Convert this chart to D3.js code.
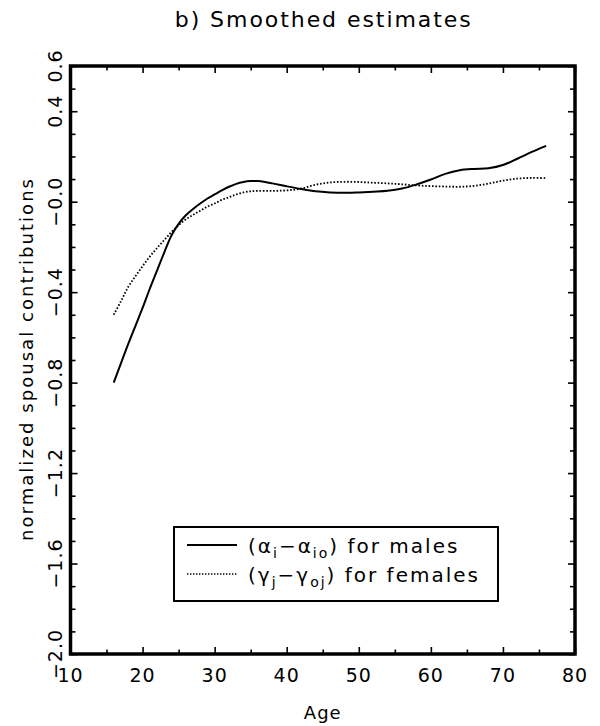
<!DOCTYPE html>
<html>
<head>
<meta charset="utf-8">
<script src="https://cdn.jsdelivr.net/npm/d3@7"></script>
<style>
  html, body { margin: 0; padding: 0; background: #fff; }
  svg text { font-family: "DejaVu Sans", sans-serif; fill: #000; }
</style>
</head>
<body>
<svg id="chart" width="600" height="726"></svg>
<script>
// ---- data ----
const maleAges = [16,17,18,19,20,21,22,23,24,25,26,27,28,29,30,31,32,33,34,35,36,37,38,40,42,44,46,48,50,52,54,56,58,60,62,64,66,68,70,72,74,76];
const maleValues = [-0.80,-0.715,-0.63,-0.55,-0.47,-0.385,-0.305,-0.225,-0.15,-0.098,-0.06,-0.032,-0.008,0.014,0.032,0.05,0.066,0.079,0.087,0.091,0.091,0.087,0.081,0.068,0.056,0.046,0.041,0.039,0.041,0.044,0.048,0.058,0.076,0.098,0.123,0.139,0.145,0.148,0.162,0.19,0.22,0.247];
const femaleAges = [16,17,18,19,20,21,22,23,24,25,26,27,28,29,30,31,32,33,34,35,36,38,40,42,44,46,48,50,52,54,56,58,60,62,64,66,68,70,72,74,76];
const femaleValues = [-0.50,-0.44,-0.377,-0.33,-0.285,-0.243,-0.205,-0.17,-0.135,-0.104,-0.078,-0.058,-0.04,-0.022,-0.008,0.008,0.02,0.032,0.041,0.046,0.048,0.048,0.05,0.058,0.075,0.085,0.088,0.087,0.084,0.081,0.077,0.072,0.069,0.067,0.066,0.07,0.08,0.093,0.102,0.105,0.104];
const xTickValues = [10,20,30,40,50,60,70,80];
const xTickLabels = ["10","20","30","40","50","60","70","80"];
const yTickValues = [-2.0,-1.6,-1.2,-0.8,-0.4,0.0,0.4,0.6];
const yTickLabels = ["\u22122.0","\u22121.6","\u22121.2","\u22120.8","\u22120.4","\u22120.0","0.4","0.6"];
const titleText = "b) Smoothed estimates";
const xTitle = "Age";
const yTitle = "normalized spousal contributions";

// ---- layout ----
const L = 70.5, R = 575, T = 66, B = 654;
const svg = d3.select("#chart");
const x = d3.scaleLinear().domain([10, 80]).range([L, R]);
const y = d3.scaleLinear().domain([-2.0, 0.6]).range([B, T]);

const xMinor = d3.range(15, 80, 10);
const yMinor = d3.range(-19, 6, 1).map(v => v / 10).filter(v => !yTickValues.some(t => Math.abs(t - v) < 1e-9));

function drawAxis(axis, transform) {
  const g = svg.append("g").attr("transform", transform).call(axis);
  g.select(".domain").remove();
  g.selectAll("line").attr("stroke", "#000").attr("stroke-width", 1.6);
  return g;
}
drawAxis(d3.axisBottom(x).tickValues(xTickValues).tickSize(-7).tickFormat(""), `translate(0,${B})`);
drawAxis(d3.axisBottom(x).tickValues(xMinor).tickSize(-4.5).tickFormat(""), `translate(0,${B})`);
drawAxis(d3.axisTop(x).tickValues(xTickValues).tickSize(-7).tickFormat(""), `translate(0,${T})`);
drawAxis(d3.axisTop(x).tickValues(xMinor).tickSize(-4.5).tickFormat(""), `translate(0,${T})`);
drawAxis(d3.axisLeft(y).tickValues(yTickValues).tickSize(-7).tickFormat(""), `translate(${L},0)`);
drawAxis(d3.axisLeft(y).tickValues(yMinor).tickSize(-5).tickFormat(""), `translate(${L},0)`);
drawAxis(d3.axisRight(y).tickValues(yTickValues).tickSize(-7).tickFormat(""), `translate(${R},0)`);
drawAxis(d3.axisRight(y).tickValues(yMinor).tickSize(-5).tickFormat(""), `translate(${R},0)`);

svg.append("rect").attr("x", L).attr("y", T).attr("width", R - L).attr("height", B - T)
  .attr("fill", "none").attr("stroke", "#000").attr("stroke-width", 3.5);

// x tick labels
svg.append("g").selectAll("text").data(xTickValues).join("text")
  .attr("x", d => x(d)).attr("y", 682)
  .attr("text-anchor", "middle").attr("font-size", 19).attr("letter-spacing", 1)
  .text((d, i) => xTickLabels[i]);

// y tick labels (rotated)
svg.append("g").selectAll("text").data(yTickValues).join("text")
  .attr("transform", d => `translate(62,${y(d)}) rotate(-90)`)
  .attr("text-anchor", "middle").attr("font-size", 19).attr("letter-spacing", 1)
  .text((d, i) => yTickLabels[i]);

// titles
svg.append("text").attr("x", (L + R) / 2).attr("y", 27).attr("text-anchor", "middle")
  .attr("font-size", 22).attr("textLength", 296).attr("lengthAdjust", "spacing").text(titleText);
svg.append("text").attr("x", (L + R) / 2).attr("y", 719).attr("text-anchor", "middle")
  .attr("font-size", 18).attr("letter-spacing", 1).text(xTitle);
svg.append("text").attr("transform", `translate(33,${(T + B) / 2}) rotate(-90)`)
  .attr("text-anchor", "middle").attr("font-size", 18)
  .attr("textLength", 362).attr("lengthAdjust", "spacing").text(yTitle);

// curves
const lineGen = d3.line().x(d => x(d[0])).y(d => y(d[1])).curve(d3.curveCatmullRom.alpha(0.5));
const maleData = maleAges.map((a, i) => [a, maleValues[i]]);
const femaleData = femaleAges.map((a, i) => [a, femaleValues[i]]);
svg.append("path").datum(maleData).attr("d", lineGen)
  .attr("fill", "none").attr("stroke", "#000").attr("stroke-width", 2);
svg.append("path").datum(femaleData).attr("d", lineGen)
  .attr("fill", "none").attr("stroke", "#000").attr("stroke-width", 1.8)
  .attr("stroke-dasharray", "1.6,1.8");

// legend
const lg = svg.append("g");
lg.append("rect").attr("x", 174).attr("y", 527).attr("width", 324).attr("height", 74)
  .attr("fill", "#fff").attr("stroke", "#000").attr("stroke-width", 2);
lg.append("line").attr("x1", 187).attr("x2", 237).attr("y1", 545).attr("y2", 545)
  .attr("stroke", "#000").attr("stroke-width", 1.8);
lg.append("line").attr("x1", 187).attr("x2", 237).attr("y1", 574).attr("y2", 574)
  .attr("stroke", "#000").attr("stroke-width", 1.6).attr("stroke-dasharray", "1.4,1.6");

function legendText(yPos, parts) {
  const t = lg.append("text").attr("x", 248).attr("y", yPos).attr("font-size", 20).attr("letter-spacing", 2);
  parts.forEach(p => {
    const s = t.append("tspan").text(p.t);
    if (p.sub) s.attr("font-size", 14).attr("dy", 5);
    if (p.up) s.attr("dy", -5);
  });
  return t;
}
legendText(553, [
  {t: "(\u03b1"}, {t: "i", sub: true}, {t: "\u2212\u03b1", up: true}, {t: "io", sub: true}, {t: ") for males", up: true}
]);
legendText(582, [
  {t: "(\u03b3"}, {t: "j", sub: true}, {t: "\u2212\u03b3", up: true}, {t: "oj", sub: true}, {t: ") for females", up: true}
]);
</script>
</body>
</html>
